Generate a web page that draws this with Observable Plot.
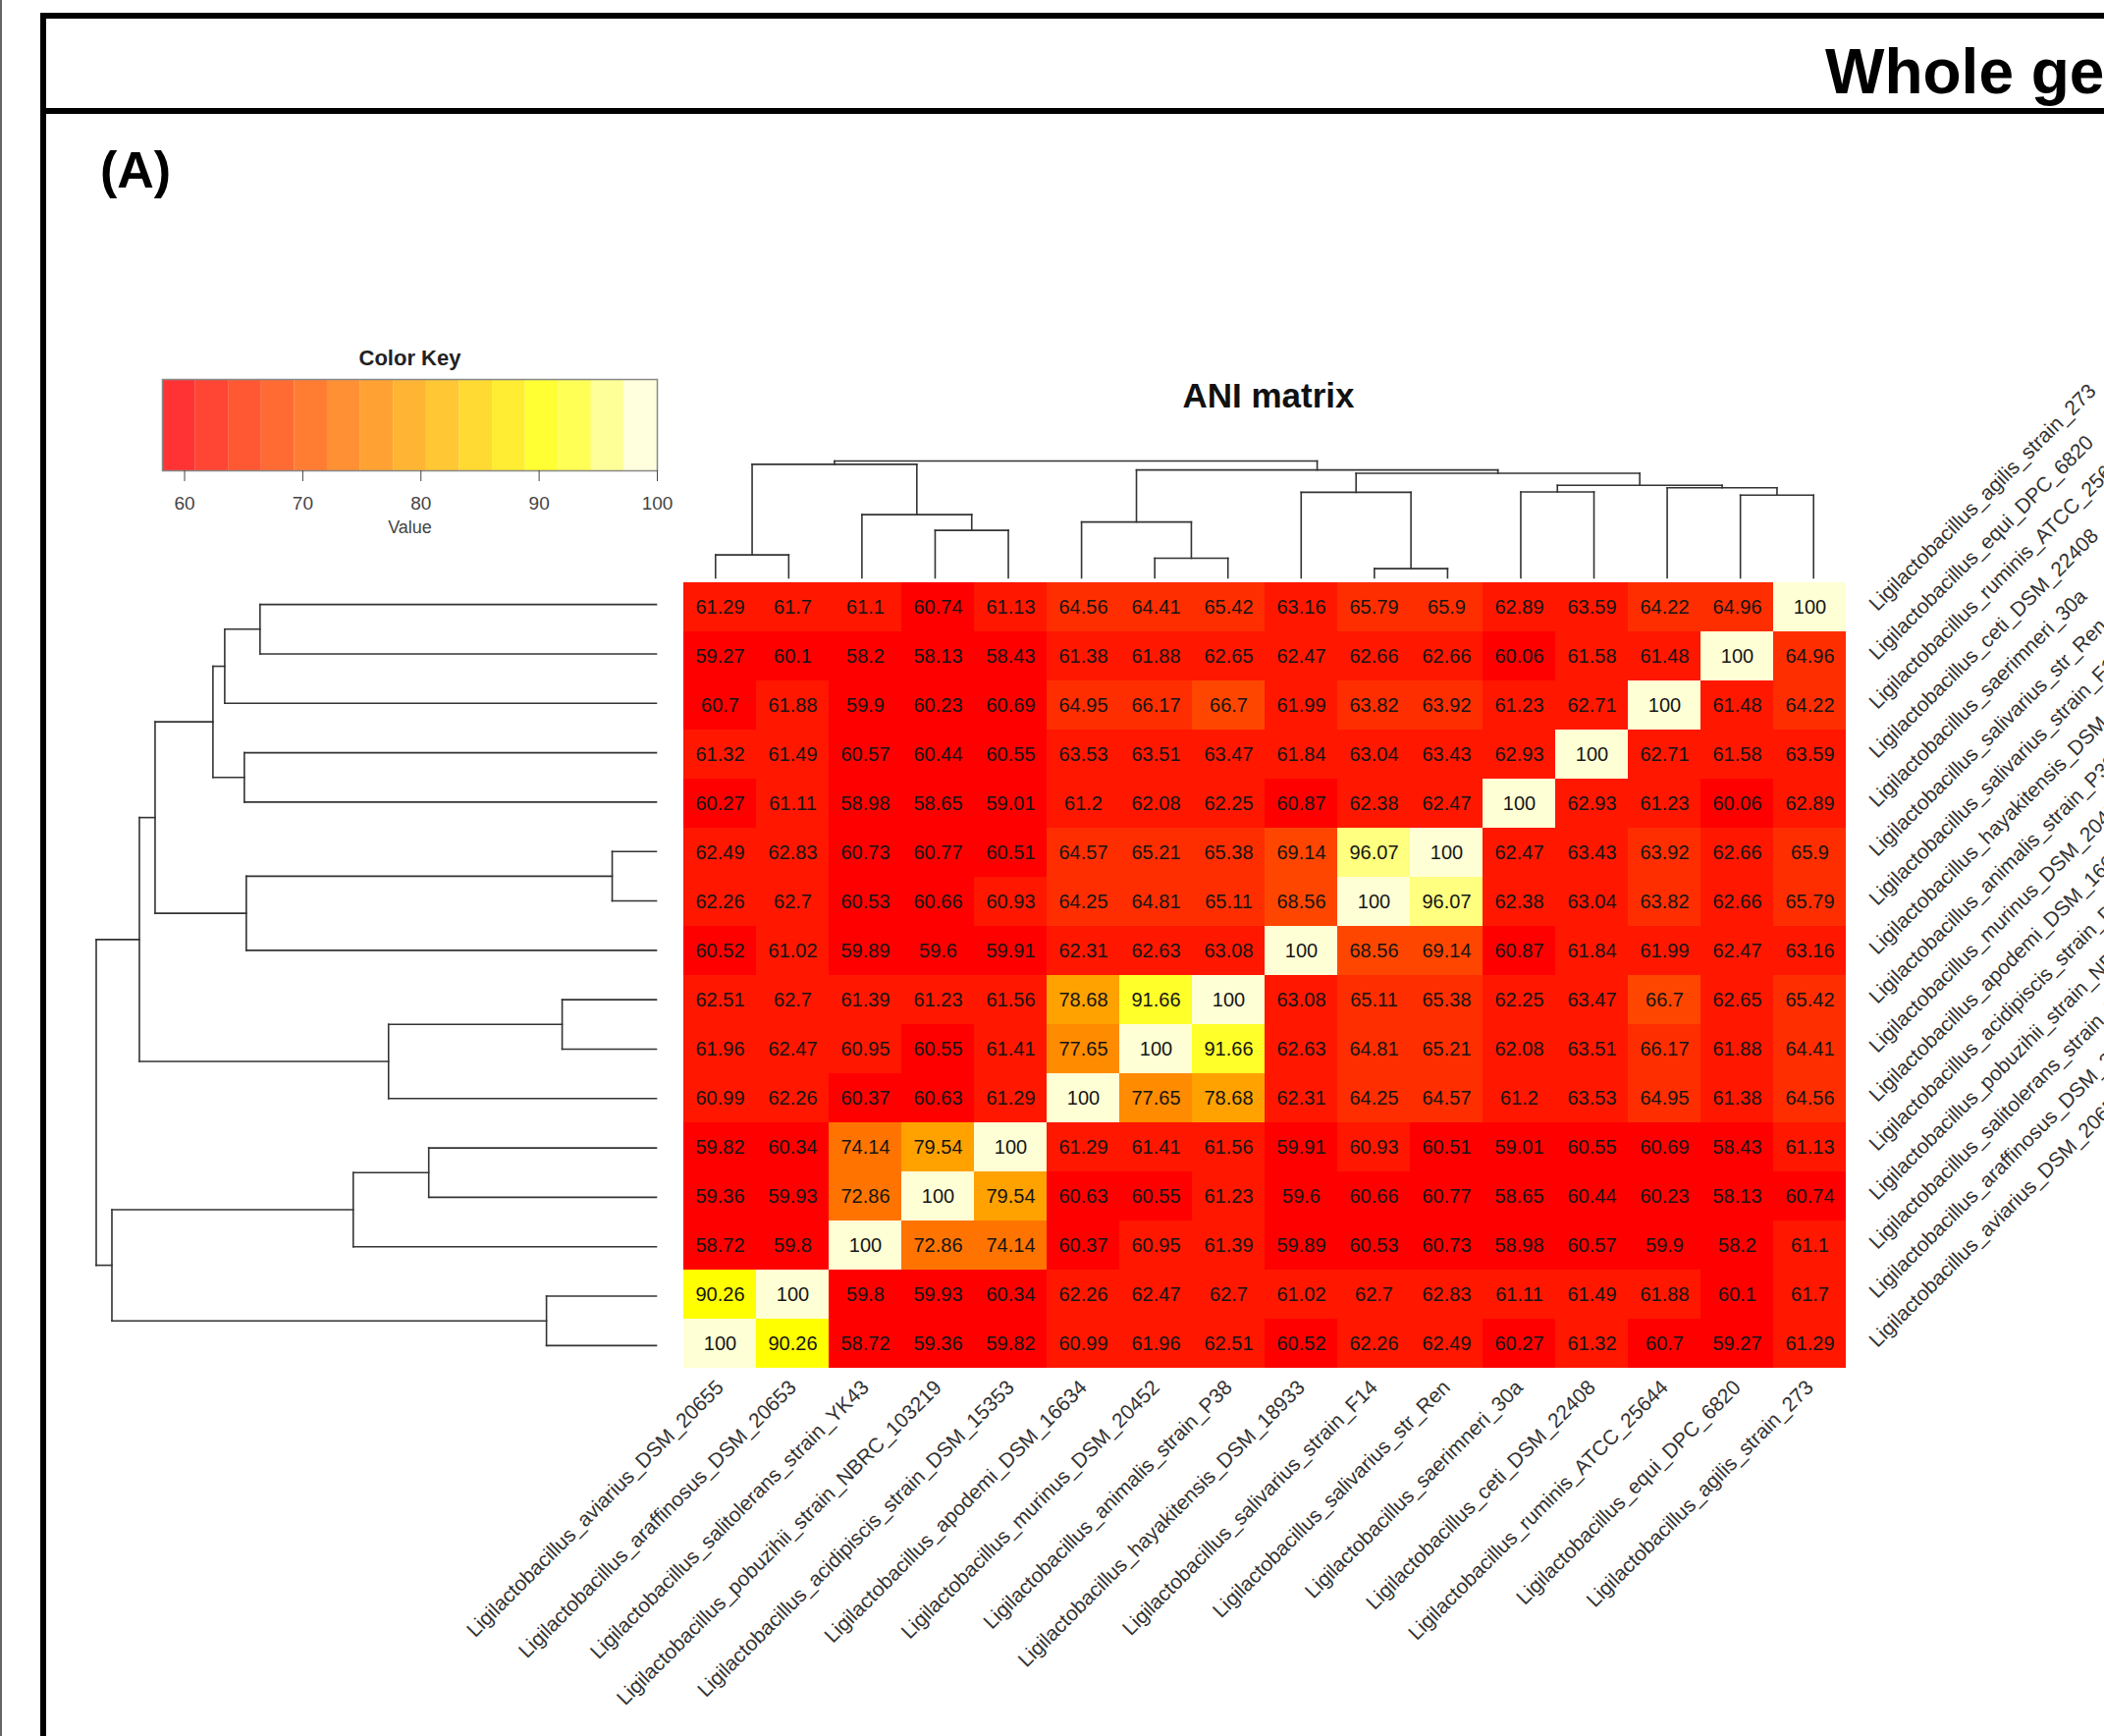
<!DOCTYPE html>
<html><head><meta charset="utf-8">
<script src="https://cdn.jsdelivr.net/npm/d3@7"></script>
<script src="https://cdn.jsdelivr.net/npm/@observablehq/plot@0.6"></script>
<style>
html,body{margin:0;padding:0;background:#fff;width:2143px;height:1768px;overflow:hidden;font-family:"Liberation Sans",Arial,sans-serif;}
#page{position:relative;width:2143px;height:1768px;overflow:hidden;background:#fff;}
#page > svg{position:absolute;}
</style></head><body><div id="page">
<svg id="deco" width="2143" height="1768" style="left:0;top:0" font-family="Liberation Sans, Arial, sans-serif">
 <rect x="0" y="0" width="2" height="1768" fill="#666"/>
 <rect x="41" y="13" width="2102" height="6" fill="#000"/>
 <rect x="41" y="110" width="2102" height="6" fill="#000"/>
 <rect x="41" y="13" width="6" height="1755" fill="#000"/>
 <text x="1859" y="95" font-size="64" font-weight="bold">Whole genome</text>
 <text x="102" y="191" font-size="52" font-weight="bold">(A)</text>
 <text x="1292" y="415" text-anchor="middle" font-size="35" font-weight="bold" fill="#111">ANI matrix</text>
</svg>
</div>
<script>
// ---------------- data ----------------
const columnNames = [
  "Ligilactobacillus_aviarius_DSM_20655",
  "Ligilactobacillus_araffinosus_DSM_20653",
  "Ligilactobacillus_salitolerans_strain_YK43",
  "Ligilactobacillus_pobuzihii_strain_NBRC_103219",
  "Ligilactobacillus_acidipiscis_strain_DSM_15353",
  "Ligilactobacillus_apodemi_DSM_16634",
  "Ligilactobacillus_murinus_DSM_20452",
  "Ligilactobacillus_animalis_strain_P38",
  "Ligilactobacillus_hayakitensis_DSM_18933",
  "Ligilactobacillus_salivarius_strain_F14",
  "Ligilactobacillus_salivarius_str_Ren",
  "Ligilactobacillus_saerimneri_30a",
  "Ligilactobacillus_ceti_DSM_22408",
  "Ligilactobacillus_ruminis_ATCC_25644",
  "Ligilactobacillus_equi_DPC_6820",
  "Ligilactobacillus_agilis_strain_273"
];
const shortNames = ["aviarius","araffinosus","salitolerans","pobuzihii","acidipiscis","apodemi","murinus","animalis","hayakitensis","salivarius_F14","salivarius_Ren","saerimneri","ceti","ruminis","equi","agilis"];
const rowNames = columnNames.slice().reverse();
const rowShort = shortNames.slice().reverse();

// ANI values, rows top (agilis) to bottom (aviarius), columns left (aviarius) to right (agilis)
const aniMatrix = [
  [61.29,61.7,61.1,60.74,61.13,64.56,64.41,65.42,63.16,65.79,65.9,62.89,63.59,64.22,64.96,100],
  [59.27,60.1,58.2,58.13,58.43,61.38,61.88,62.65,62.47,62.66,62.66,60.06,61.58,61.48,100,64.96],
  [60.7,61.88,59.9,60.23,60.69,64.95,66.17,66.7,61.99,63.82,63.92,61.23,62.71,100,61.48,64.22],
  [61.32,61.49,60.57,60.44,60.55,63.53,63.51,63.47,61.84,63.04,63.43,62.93,100,62.71,61.58,63.59],
  [60.27,61.11,58.98,58.65,59.01,61.2,62.08,62.25,60.87,62.38,62.47,100,62.93,61.23,60.06,62.89],
  [62.49,62.83,60.73,60.77,60.51,64.57,65.21,65.38,69.14,96.07,100,62.47,63.43,63.92,62.66,65.9],
  [62.26,62.7,60.53,60.66,60.93,64.25,64.81,65.11,68.56,100,96.07,62.38,63.04,63.82,62.66,65.79],
  [60.52,61.02,59.89,59.6,59.91,62.31,62.63,63.08,100,68.56,69.14,60.87,61.84,61.99,62.47,63.16],
  [62.51,62.7,61.39,61.23,61.56,78.68,91.66,100,63.08,65.11,65.38,62.25,63.47,66.7,62.65,65.42],
  [61.96,62.47,60.95,60.55,61.41,77.65,100,91.66,62.63,64.81,65.21,62.08,63.51,66.17,61.88,64.41],
  [60.99,62.26,60.37,60.63,61.29,100,77.65,78.68,62.31,64.25,64.57,61.2,63.53,64.95,61.38,64.56],
  [59.82,60.34,74.14,79.54,100,61.29,61.41,61.56,59.91,60.93,60.51,59.01,60.55,60.69,58.43,61.13],
  [59.36,59.93,72.86,100,79.54,60.63,60.55,61.23,59.6,60.66,60.77,58.65,60.44,60.23,58.13,60.74],
  [58.72,59.8,100,72.86,74.14,60.37,60.95,61.39,59.89,60.53,60.73,58.98,60.57,59.9,58.2,61.1],
  [90.26,100,59.8,59.93,60.34,62.26,62.47,62.7,61.02,62.7,62.83,61.11,61.49,61.88,60.1,61.7],
  [100,90.26,58.72,59.36,59.82,60.99,61.96,62.51,60.52,62.26,62.49,60.27,61.32,60.7,59.27,61.29]
];

// hierarchical clustering merges: [child A, child B, height]; numbers refer to earlier merges
const dendroMerges = [
  ["aviarius","araffinosus",112],
  ["pobuzihii","acidipiscis",232],
  ["salitolerans",1,309],
  [0,2,555],
  ["murinus","animalis",96],
  ["apodemi",4,273],
  ["salivarius_F14","salivarius_Ren",45],
  ["hayakitensis",6,418],
  ["saerimneri","ceti",420],
  ["equi","agilis",404],
  ["ruminis",9,440],
  [8,10,452],
  [7,11,511],
  [5,12,527],
  [3,13,571]
];

// color key
const keyMin = 58.13, keyMax = 100, keyBinsCount = 15;
const keyTicks = [60,70,80,90,100];
const heatColors = ["#FF0000","#FF1700","#FF2E00","#FF4600","#FF5D00","#FF7400","#FF8B00","#FFA200","#FFB900","#FFD100","#FFE800","#FFFF00","#FFFF2A","#FFFF80","#FFFFD5"];

// ---------------- build ----------------
const page = document.getElementById("page");
const FONT = "Liberation Sans, Arial, sans-serif";
const breaks = d3.range(keyBinsCount + 1).map(k => keyMin + (keyMax - keyMin) * k / keyBinsCount);
const colorScale = {type: "threshold", domain: breaks.slice(1, -1), range: heatColors};

const cells = [];
rowNames.forEach((r, i) => columnNames.forEach((c, j) => cells.push({row: r, col: c, value: aniMatrix[i][j]})));

function place(el, left, top) {
  el.style.position = "absolute";
  el.style.left = left + "px";
  el.style.top = top + "px";
  page.appendChild(el);
}

// heatmap
const heat = Plot.plot({
  width: 2143, height: 1768,
  marginLeft: 691, marginRight: 259, marginTop: 590, marginBottom: 373,
  x: {domain: columnNames, padding: 0, axis: null},
  y: {domain: rowNames, padding: 0, axis: null},
  color: colorScale,
  style: {background: "transparent", overflow: "visible", fontFamily: FONT},
  marks: [
    Plot.cell(cells, {x: "col", y: "row", fill: "value", inset: 0}),
    Plot.text(cells, {x: "col", y: "row", text: d => String(d.value), fontSize: 20, fill: "#151515"}),
    Plot.text(columnNames, {x: d => d, frameAnchor: "bottom", dy: 14, rotate: -45, textAnchor: "end", lineAnchor: "middle", fontSize: 21, fill: "#333"}),
    Plot.text(rowNames, {y: d => d, frameAnchor: "right", dx: 23, rotate: -45, textAnchor: "start", lineAnchor: "middle", fontSize: 21, fill: "#333"})
  ]
});
place(heat, 0, 0);

// dendrogram segments
function dendroSegments(leafPos) {
  const pos = [], hgt = [], segs = [];
  const get = c => typeof c === "number" ? {p: pos[c], h: hgt[c]} : {p: leafPos(c), h: 0};
  dendroMerges.forEach(([a, b, h], i) => {
    const A = get(a), B = get(b);
    segs.push({p1: A.p, h1: A.h, p2: A.p, h2: h});
    segs.push({p1: B.p, h1: B.h, p2: B.p, h2: h});
    segs.push({p1: A.p, h1: h, p2: B.p, h2: h});
    pos[i] = (A.p + B.p) / 2; hgt[i] = h;
  });
  return segs;
}
const maxH = d3.max(dendroMerges, d => d[2]);

const topSegs = dendroSegments(n => shortNames.indexOf(n) + 0.5);
const topDendro = Plot.plot({
  width: 1193, height: 130, margin: 0,
  x: {domain: [0, 16], range: [0, 1193], axis: null},
  y: {domain: [0, maxH], range: [128, 9], axis: null},
  style: {background: "transparent", overflow: "visible"},
  marks: [Plot.link(topSegs, {x1: "p1", y1: "h1", x2: "p2", y2: "h2", stroke: "#333", strokeWidth: 1.6, strokeLinecap: "square"})]
});
place(topDendro, 691, 460);

const leftSegs = dendroSegments(n => rowShort.indexOf(n) + 0.5);
const leftDendro = Plot.plot({
  width: 631, height: 805, margin: 0,
  x: {domain: [0, maxH], range: [608, 37.5], axis: null},
  y: {domain: [0, 16], range: [0, 805], axis: null},
  style: {background: "transparent", overflow: "visible"},
  marks: [Plot.link(leftSegs, {x1: "h1", y1: "p1", x2: "h2", y2: "p2", stroke: "#333", strokeWidth: 1.6, strokeLinecap: "square"})]
});
place(leftDendro, 60, 590);

// color key
const keyBins = d3.range(keyBinsCount).map(k => ({x1: breaks[k], x2: breaks[k + 1]}));
const key = Plot.plot({
  width: 700, height: 240,
  marginLeft: 165, marginRight: 31, marginTop: 56, marginBottom: 91,
  x: {domain: [keyMin, keyMax]},
  y: {domain: [0, 1], axis: null},
  color: colorScale,
  style: {background: "transparent", overflow: "visible", fontFamily: FONT, color: "#444", fontSize: "19px"},
  marks: [
    Plot.rect(keyBins, {x1: "x1", x2: "x2", y1: 0, y2: 1, fill: d => (d.x1 + d.x2) / 2, fillOpacity: 0.8}),
    Plot.frame({stroke: "#888", strokeWidth: 1.5}),
    Plot.axisX({ticks: keyTicks, tickSize: 11, tickPadding: 15, label: null, fontSize: 19}),
    Plot.text(["Color Key"], {frameAnchor: "top", dy: -15, lineAnchor: "bottom", fontSize: 22, fontWeight: "bold", fill: "#222"}),
    Plot.text(["Value"], {frameAnchor: "bottom", dy: 63, fontSize: 18, fill: "#444"})
  ]
});
place(key, 0, 330);
</script>
</body></html>
